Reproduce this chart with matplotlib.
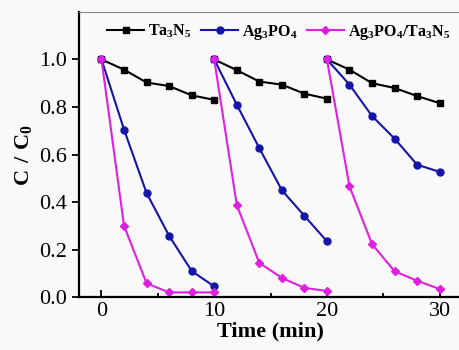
import numpy as np
import matplotlib.pyplot as plt
from matplotlib.ticker import MultipleLocator

plt.rcParams['font.family'] = ['Liberation Serif', 'DejaVu Serif']
plt.rcParams['mathtext.fontset'] = 'custom'
plt.rcParams['mathtext.rm'] = 'Liberation Serif'
plt.rcParams['mathtext.bf'] = 'Liberation Serif:bold'

# three cycles, 0-10 min each, sampled every 2 min
t1 = [0, 2, 4, 6, 8, 10]
t2 = [10, 12, 14, 16, 18, 20]
t3 = [20, 22, 24, 26, 28, 30]

ta3n5_1 = [1.0, 0.957, 0.903, 0.888, 0.849, 0.830]
ta3n5_2 = [1.0, 0.955, 0.907, 0.894, 0.856, 0.835]
ta3n5_3 = [1.0, 0.957, 0.900, 0.880, 0.846, 0.816]

ag3po4_1 = [1.0, 0.705, 0.438, 0.258, 0.110, 0.045]
ag3po4_2 = [1.0, 0.810, 0.627, 0.450, 0.342, 0.235]
ag3po4_3 = [1.0, 0.894, 0.762, 0.667, 0.557, 0.527]

comp_1 = [1.0, 0.300, 0.058, 0.020, 0.020, 0.020]
comp_2 = [1.0, 0.388, 0.144, 0.081, 0.039, 0.026]
comp_3 = [1.0, 0.466, 0.223, 0.109, 0.069, 0.034]


def join(a, b, c):
    # NaN between cycles so they are not connected
    return np.concatenate([a, [np.nan], b, [np.nan], c])


t_all = join(t1, t2, t3)

fig = plt.figure(figsize=(4.59, 3.5), dpi=100, facecolor='#f9f9f9')
ax = fig.add_axes([0.172, 0.151, 0.835, 0.815])
ax.set_facecolor('#f9f9f9')

ax.plot(t_all, join(ta3n5_1, ta3n5_2, ta3n5_3), color='black', marker='s',
        markersize=4.5, linewidth=1.5, label=r'$\mathbf{Ta_3N_5}$')
ax.plot(t_all, join(ag3po4_1, ag3po4_2, ag3po4_3), color='#1414a8', marker='o',
        markersize=5, linewidth=1.5, label=r'$\mathbf{Ag_3PO_4}$')
ax.plot(t_all, join(comp_1, comp_2, comp_3), color='#e020e0', marker='D',
        markersize=4, linewidth=1.5, label=r'$\mathbf{Ag_3PO_4/Ta_3N_5}$')

ax.set_xlim(-2, 32)
ax.set_ylim(0, 1.2)
ax.set_xticks([0, 10, 20, 30])
ax.xaxis.set_minor_locator(MultipleLocator(5))
ax.set_yticks([0.0, 0.2, 0.4, 0.6, 0.8, 1.0])
ax.tick_params(axis='x', which='both', direction='in', labelsize=16, width=1.3)
ax.tick_params(axis='x', which='major', length=5)
ax.tick_params(axis='x', which='minor', length=3)
ax.tick_params(axis='y', direction='out', labelsize=16, length=5, width=1.3)

ax.spines['left'].set_linewidth(1.6)
ax.spines['bottom'].set_linewidth(1.6)
ax.spines['top'].set_linewidth(0.8)
ax.spines['top'].set_color('#888888')
ax.spines['right'].set_visible(False)

ax.set_xlabel('Time (min)', fontsize=16, fontweight='bold', labelpad=0)
ax.set_ylabel(r'$\mathbf{C\ /\ C_0}$', fontsize=16, labelpad=4)

ax.legend(loc='upper left', bbox_to_anchor=(0.045, 1.0), ncol=3, frameon=False,
          fontsize=11.5, handlelength=2.3, handletextpad=0.25, columnspacing=0.6,
          borderaxespad=0.3)

fig.savefig('out.png', dpi=100, facecolor=fig.get_facecolor())
